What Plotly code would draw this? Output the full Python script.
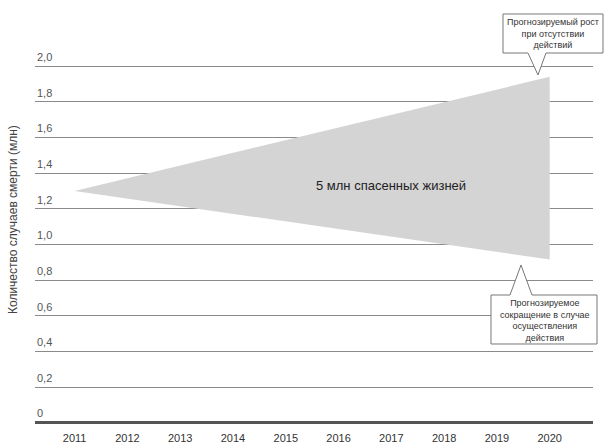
import plotly.graph_objects as go

# ---- data ----
years = list(range(2011, 2021))
year_labels = [str(y) for y in years]
y_ticks = [0, 0.2, 0.4, 0.6, 0.8, 1.0, 1.2, 1.4, 1.6, 1.8, 2.0]
y_tick_labels = ["0", "0,2", "0,4", "0,6", "0,8", "1,0", "1,2", "1,4", "1,6", "1,8", "2,0"]
proj_years = [2011, 2020]
no_action = [1.30, 1.94]      # projected growth without action
with_action = [1.30, 0.915]   # projected reduction with action

W, H = 611, 445
L, R, T, B = 35, 18, 0, 20
PW, PH = W - L - R, H - T - B

def px(x):
    return (x - L) / PW

def py(y):
    return (H - B - y) / PH

FONT = "Liberation Sans, Arial, sans-serif"

fig = go.Figure()
fig.add_trace(go.Scatter(
    x=proj_years + proj_years[::-1],
    y=no_action + with_action[::-1],
    fill="toself", fillcolor="#d4d4d4",
    line=dict(width=0, color="#d4d4d4"),
    mode="lines", hoverinfo="skip", showlegend=False,
))

annotations = []
for v, lab in zip(y_ticks, y_tick_labels):
    annotations.append(dict(
        x=0, xref="paper", y=v, yref="y", text=lab, showarrow=False,
        xanchor="left", yanchor="middle", yshift=9 if v > 0 else 10,
        font=dict(family=FONT, size=11, color="#555555"),
    ))

annotations.append(dict(
    x=px(13), xref="paper", y=py(220), yref="paper",
    text="Количество случаев смерти (млн)", textangle=-90, showarrow=False,
    xanchor="center", yanchor="middle",
    font=dict(family=FONT, size=12, color="#444444"),
))

annotations.append(dict(
    x=2017, xref="x", y=py(185), yref="paper",
    text="5 млн спасенных жизней", showarrow=False,
    xanchor="center", yanchor="middle",
    font=dict(family=FONT, size=13, color="#222222"),
))

annotations.append(dict(
    x=px(553), xref="paper", y=py(34), yref="paper",
    text="Прогнозируемый рост<br>при отсутствии<br>действий", showarrow=False,
    xanchor="center", yanchor="middle",
    font=dict(family=FONT, size=9, color="#333333"),
))
annotations.append(dict(
    x=px(545), xref="paper", y=py(320), yref="paper",
    text="Прогнозируемое<br>сокращение в случае<br>осуществления<br>действия", showarrow=False,
    xanchor="center", yanchor="middle",
    font=dict(family=FONT, size=9, color="#333333"),
))

def path(points):
    s = "M " + " L ".join(f"{px(a):.5f},{py(b):.5f}" for a, b in points) + " Z"
    return s

top_call = [(503, 14), (603, 14), (603, 53), (546, 53), (538, 75), (528, 53), (503, 53)]
bot_call = [(491, 295), (510, 295), (521, 265), (532, 295), (597, 295), (597, 344), (491, 344)]

shapes = [
    dict(type="path", xref="paper", yref="paper", path=path(top_call),
         line=dict(color="#777777", width=1), fillcolor="white", layer="above"),
    dict(type="path", xref="paper", yref="paper", path=path(bot_call),
         line=dict(color="#777777", width=1), fillcolor="white", layer="above"),
]

fig.update_layout(
    width=W, height=H,
    margin=dict(l=L, r=R, t=T, b=B),
    paper_bgcolor="white", plot_bgcolor="white",
    showlegend=False,
    xaxis=dict(
        range=[2010.25, 2020.82], tickvals=years, ticktext=year_labels,
        showgrid=False, zeroline=False, showline=False, ticks="",
        ticklabelstandoff=5,
        tickfont=dict(family=FONT, size=11, color="#333333"),
        fixedrange=True,
    ),
    yaxis=dict(
        range=[-0.0129, 2.371], tickvals=y_ticks, showticklabels=False,
        showgrid=True, gridcolor="#8a8a8a", gridwidth=1.4,
        zeroline=True, zerolinecolor="#555555", zerolinewidth=2.5,
        showline=False, ticks="", fixedrange=True,
    ),
    annotations=annotations,
    shapes=shapes,
)

fig.write_html("out.html")
